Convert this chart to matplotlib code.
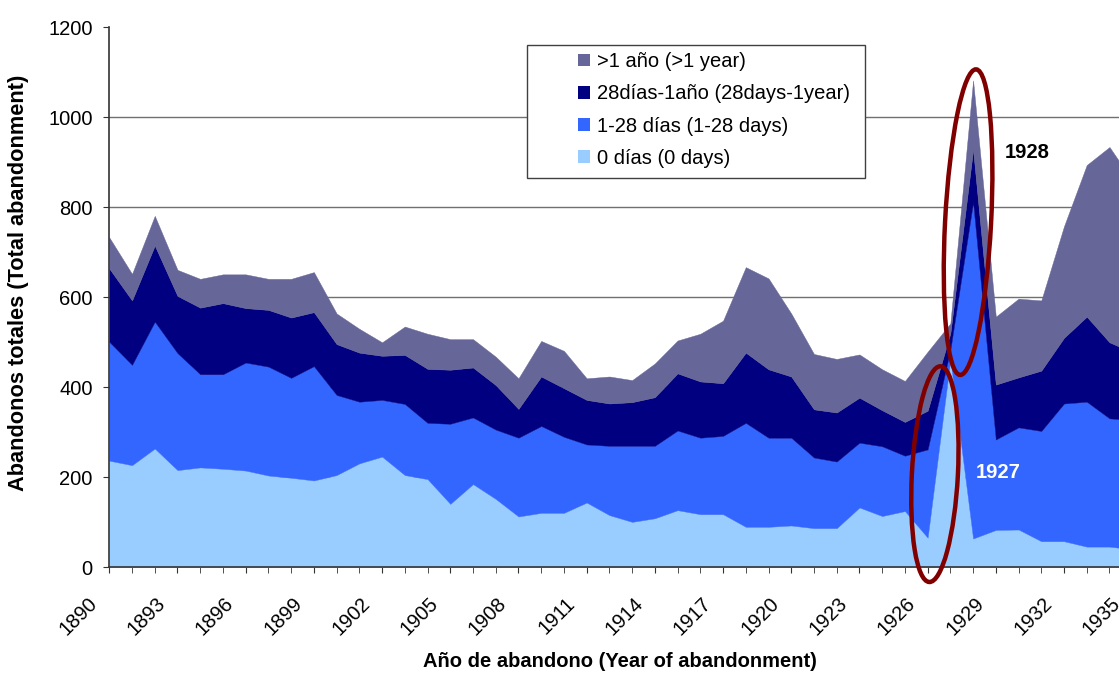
import numpy as np
import matplotlib
matplotlib.use("Agg")
import matplotlib.pyplot as plt
from matplotlib.patches import Patch, Rectangle, Ellipse
from matplotlib.transforms import ScaledTranslation

plt.rcParams['font.family'] = ['Liberation Sans', 'DejaVu Sans']

years = np.arange(1890, 1936)

# 0 dias (0 days)
dias_0 = [237, 227, 264, 216, 222, 219, 215, 204, 199, 193,
          205, 231, 246, 205, 196, 141, 185, 152, 113, 121,
          121, 144, 116, 101, 109, 127, 118, 118, 90, 90,
          93, 87, 87, 133, 114, 125, 66, 462, 64, 83,
          84, 58, 58, 46, 46, 40]
# 1-28 dias
dias_1_28 = [264, 223, 282, 260, 207, 210, 240, 242, 222, 254,
             178, 137, 126, 158, 125, 178, 148, 154, 175, 193,
             169, 129, 154, 169, 161, 177, 170, 174, 231, 198,
             195, 157, 148, 144, 155, 123, 196, 22, 748, 201,
             227, 245, 306, 322, 285, 287]
# 28dias-1año
dias_28_1ano = [163, 143, 169, 127, 148, 158, 121, 126, 134, 120,
                113, 109, 98, 109, 120, 120, 111, 99, 64, 110,
                108, 99, 94, 97, 108, 127, 125, 117, 156, 152,
                136, 107, 109, 100, 80, 75, 86, 36, 116, 122,
                111, 134, 146, 189, 169, 151]
# >1 año
mas_1ano = [69, 59, 66, 58, 64, 64, 75, 69, 86, 89,
            68, 53, 30, 63, 78, 68, 63, 63, 68, 79,
            83, 48, 60, 49, 75, 73, 106, 139, 190, 202,
            140, 123, 119, 96, 91, 91, 131, 22, 154, 151,
            175, 156, 248, 337, 434, 382]

labels = ['0 días (0 days)', '1-28 días (1-28 days)',
          '28días-1año (28days-1year)', '>1 año (>1 year)']
colors = ['#99CCFF', '#3366FF', '#000080', '#666699']
label_years = np.arange(1890, 1936, 3)

W, H = 1119, 673
fig = plt.figure(figsize=(W / 100, H / 100), dpi=100)
ax = fig.add_axes([109.3 / W, 105.7 / H, 1022.9 / W, 540 / H])

ax.stackplot(years, dias_0, dias_1_28, dias_28_1ano, mas_1ano,
             colors=colors, linewidth=0.3, edgecolor='face', zorder=2)

ax.set_xlim(1890, 1935)
ax.set_ylim(0, 1200)
ax.set_yticks(np.arange(0, 1201, 200))
ax.set_xticks(label_years)
ax.set_xticks(years, minor=True)
ax.set_xticklabels([str(y) for y in label_years], rotation=45,
                   ha='right', va='center', rotation_mode='anchor')

ax.grid(axis='y', color='#707070', linewidth=1, zorder=1)
ax.get_ygridlines()[-1].set_visible(False)
ax.set_axisbelow(True)

for side in ['top', 'right']:
    ax.spines[side].set_visible(False)
for side in ['left', 'bottom']:
    ax.spines[side].set_color('#333333')
    ax.spines[side].set_linewidth(1.2)
    ax.spines[side].set_zorder(3)

ax.tick_params(axis='both', which='both', direction='out', length=4,
               color='#333333', labelsize=14.5, labelcolor='black')
ax.tick_params(axis='x', which='major', pad=20)
ax.tick_params(axis='y', which='major', pad=8)

# shift the rotated year labels a bit to the left of their ticks
shift = ScaledTranslation(-15 / 100, 0, fig.dpi_scale_trans)
for lbl in ax.get_xticklabels():
    lbl.set_transform(lbl.get_transform() + shift)

ax.set_ylabel('Abandonos totales (Total abandonment)', fontsize=15.7,
              fontweight='bold')
ax.set_xlabel('Año de abandono (Year of abandonment)', fontsize=14.5,
              fontweight='bold')
ax.yaxis.set_label_coords(-0.0883, 0.527)
ax.xaxis.set_label_coords(0.499, -0.175)
ax.xaxis.label.set_va('center')
ax.yaxis.label.set_va('center')

# highlight ellipses (pixel-sized, anchored to data points)
for cx, cy, w, h in [(1927.78, 767, 46, 306), (1926.32, 207, 46, 216)]:
    e = Ellipse((0, 0), w, h, angle=-3, fill=False, edgecolor='#800000',
                linewidth=3.2, clip_on=False, zorder=5)
    e.set_transform(ScaledTranslation(cx, cy, ax.transData))
    fig.add_artist(e)

ax.text(1930.37, 921, '1928', fontsize=14.5, fontweight='bold',
        color='black', ha='center', va='center', zorder=6)
ax.text(1929.1, 210, '1927', fontsize=14.5, fontweight='bold',
        color='white', ha='center', va='center', zorder=6)

# legend
fig.add_artist(Rectangle((527 / W, 1 - 178 / H), 338 / W, 133 / H,
                         transform=fig.transFigure, facecolor='white',
                         edgecolor='#404040', linewidth=1, zorder=4))
handles = [Patch(facecolor=c, edgecolor='none') for c in colors]
leg = fig.legend(handles[::-1], labels[::-1], loc='upper left',
                 bbox_to_anchor=(578 / W, 1 - 52 / H), frameon=False,
                 fontsize=14.5, handlelength=0.6, handleheight=0.6,
                 handletextpad=0.35, labelspacing=0.66, borderpad=0,
                 borderaxespad=0)
leg.set_zorder(5)

fig.savefig('out.png', dpi=100)
